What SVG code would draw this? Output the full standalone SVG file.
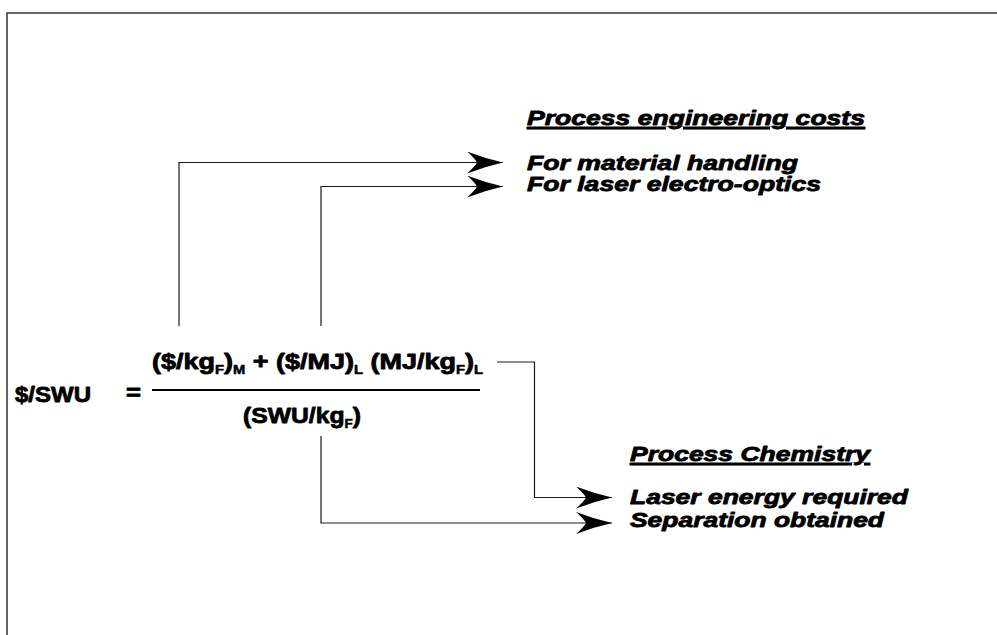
<svg xmlns="http://www.w3.org/2000/svg" width="997" height="635" viewBox="0 0 997 635">
<style>
.bg{fill:#fff}
.frame{fill:none;stroke:#333;stroke-width:1.5}
.conn{fill:none;stroke:#1a1a1a;stroke-width:1.2}
.eq{font-family:"Liberation Sans",Arial,sans-serif;font-weight:bold;font-size:22px;fill:#000;stroke:#000;stroke-width:0.8;stroke-linejoin:round}
.sub{font-size:12px;stroke-width:0.5}
.lbl{font-family:"Liberation Sans",Arial,sans-serif;font-weight:bold;font-style:italic;font-size:21px;fill:#000;stroke:#000;stroke-width:0.85;stroke-linejoin:round}
.ul{text-decoration:underline}
.bar{stroke:#000;stroke-width:2.2}
</style>
<defs>
<marker id="dart" viewBox="0 0 36 22" refX="36" refY="11" markerWidth="36" markerHeight="22" markerUnits="userSpaceOnUse" orient="auto">
<path d="M36,11 Q18,7 0,0 Q8,7 10,11 Q8,15 0,22 Q18,15 36,11 Z" fill="#000"/>
</marker>
</defs>
<rect class="bg" x="0" y="0" width="997" height="635"/>
<g id="frame">
<path class="frame" d="M7,635 V13 H997"/>
</g>
<g id="connectors">
<path class="conn" d="M179,326 V162.5 H503" marker-end="url(#dart)"/>
<path class="conn" d="M321,326 V186.5 H503" marker-end="url(#dart)"/>
<path class="conn" d="M497,362 H534.5 V497.5 H612" marker-end="url(#dart)"/>
<path class="conn" d="M321,436 V523 H612" marker-end="url(#dart)"/>
</g>
<g id="lhs">
<text class="eq" x="15" y="402" textLength="76" lengthAdjust="spacingAndGlyphs">$/SWU</text>
<text class="eq" x="126" y="400" textLength="15" lengthAdjust="spacingAndGlyphs">=</text>
</g>
<g id="numerator">
<text class="eq" x="152" y="369" textLength="331" lengthAdjust="spacingAndGlyphs">($/kg<tspan class="sub" dy="5">F</tspan><tspan dy="-5">)</tspan><tspan class="sub" dy="5">M</tspan><tspan dy="-5"> + ($/MJ)</tspan><tspan class="sub" dy="5">L</tspan><tspan dy="-5"> (MJ/kg</tspan><tspan class="sub" dy="5">F</tspan><tspan dy="-5">)</tspan><tspan class="sub" dy="5">L</tspan></text>
</g>
<g id="fraction-bar">
<line class="bar" x1="152" y1="390" x2="480" y2="390"/>
</g>
<g id="denominator">
<text class="eq" x="243" y="423" textLength="118" lengthAdjust="spacingAndGlyphs">(SWU/kg<tspan class="sub" dy="5">F</tspan><tspan dy="-5">)</tspan></text>
</g>
<g id="process-engineering">
<text class="lbl ul" x="527" y="125" textLength="338" lengthAdjust="spacingAndGlyphs">Process engineering costs</text>
</g>
<g id="material-handling">
<text class="lbl" x="527" y="169.5" textLength="271" lengthAdjust="spacingAndGlyphs">For material handling</text>
</g>
<g id="laser-electro-optics">
<text class="lbl" x="527" y="191" textLength="294" lengthAdjust="spacingAndGlyphs">For laser electro-optics</text>
</g>
<g id="process-chemistry">
<text class="lbl ul" x="630" y="461" textLength="240" lengthAdjust="spacingAndGlyphs">Process Chemistry</text>
</g>
<g id="laser-energy">
<text class="lbl" x="630" y="504" textLength="278" lengthAdjust="spacingAndGlyphs">Laser energy required</text>
</g>
<g id="separation">
<text class="lbl" x="630" y="526.5" textLength="254" lengthAdjust="spacingAndGlyphs">Separation obtained</text>
</g>
</svg>
